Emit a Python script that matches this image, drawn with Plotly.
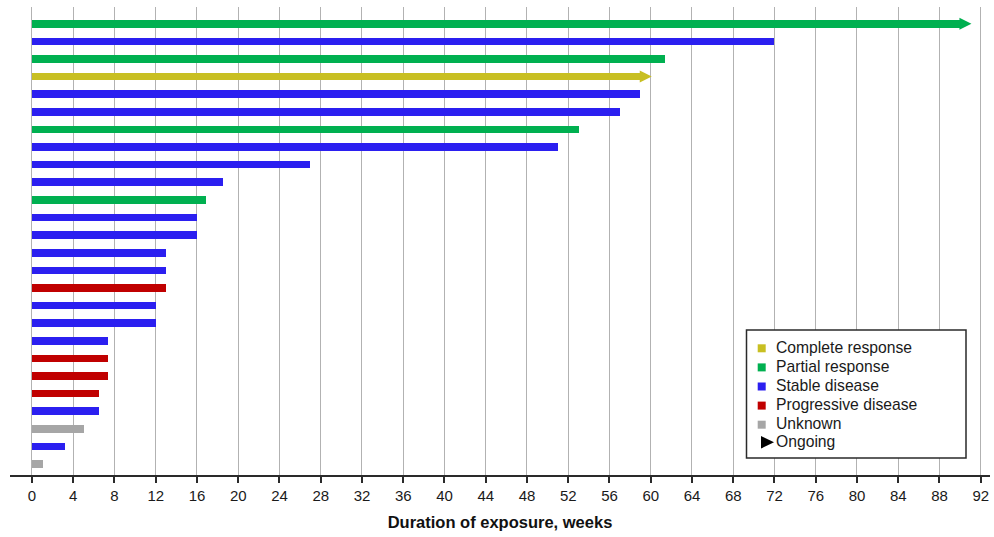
import plotly.graph_objects as go

# Duration of exposure (weeks) per patient, ordered longest first
durations = [90, 72, 61.4, 59, 59, 57, 53, 51, 27, 18.5, 16.9, 16, 16,
             13, 13, 13, 12, 12, 7.4, 7.4, 7.4, 6.5, 6.5, 5, 3.2, 1.1]
responses = ["PR", "SD", "PR", "CR", "SD", "SD", "PR", "SD", "SD", "SD",
             "PR", "SD", "SD", "SD", "SD", "PD", "SD", "SD", "SD", "PD",
             "PD", "PD", "SD", "UNK", "SD", "UNK"]
ongoing = [True, False, False, True] + [False] * 22

categories = ["CR", "PR", "SD", "PD", "UNK"]
category_names = ["Complete response", "Partial response", "Stable disease",
                  "Progressive disease", "Unknown"]
category_colors = ["#c8bf22", "#00b050", "#2b1ff0", "#c00000", "#a6a6a6"]
ongoing_label = "Ongoing"
x_ticks = list(range(0, 93, 4))

FONT = "Liberation Sans, Arial, sans-serif"
ARROW_WEEKS = 1.1  # length of the "ongoing" arrowhead beyond the bar end

rows = list(range(len(durations)))
fig = go.Figure()

for cat, color in zip(categories, category_colors):
    idx = [i for i in rows if responses[i] == cat]
    fig.add_trace(go.Bar(
        x=[durations[i] for i in idx], y=idx, base=0, orientation="h",
        width=0.43, marker=dict(color=color, line=dict(width=0)),
        showlegend=False, hoverinfo="x",
    ))

# Arrowheads for patients still on treatment
color_of = dict(zip(categories, category_colors))
on_idx = [i for i in rows if ongoing[i]]
fig.add_trace(go.Scatter(
    x=[durations[i] + ARROW_WEEKS for i in on_idx], y=on_idx, mode="markers",
    marker=dict(symbol="arrow-right", size=12,
                color=[color_of[responses[i]] for i in on_idx],
                line=dict(width=0)),
    showlegend=False, hoverinfo="skip",
))

W, H = 994, 537
ml, mr, mt, mb = 10, 4, 7, 62
pw, ph = W - ml - mr, H - mt - mb


def px_x(p):
    return (p - ml) / pw


def px_y(p):
    return 1 - (p - mt) / ph


# Boxed legend in the lower right corner
box_l, box_r, box_t, box_b = 746.5, 966, 330, 458
fig.add_shape(type="rect", xref="paper", yref="paper",
              x0=px_x(box_l), x1=px_x(box_r), y0=px_y(box_b), y1=px_y(box_t),
              line=dict(color="#2a2a2a", width=1.5), fillcolor="white",
              layer="above")

row0, row_step = 348.3, 19.1
sw_cx, sw_half = 761.7, 4
text_x = 774
for k, (name, color) in enumerate(zip(category_names, category_colors)):
    cy = row0 + k * row_step
    fig.add_shape(type="rect", xref="paper", yref="paper",
                  x0=px_x(sw_cx - sw_half), x1=px_x(sw_cx + sw_half),
                  y0=px_y(cy + sw_half), y1=px_y(cy - sw_half),
                  line=dict(width=0), fillcolor=color, layer="above")
    fig.add_annotation(x=px_x(text_x), y=px_y(cy - 1), xref="paper", yref="paper",
                       text=name, showarrow=False, xanchor="left", yanchor="middle",
                       font=dict(size=15.7, family=FONT, color="#1a1a1a"))

cy = row0 + len(category_names) * row_step - 1.5
tri = (f"M {px_x(761)} {px_y(cy - 6.3)} L {px_x(774)} {px_y(cy)} "
       f"L {px_x(761)} {px_y(cy + 6.3)} Z")
fig.add_shape(type="path", xref="paper", yref="paper", path=tri,
              line=dict(width=0), fillcolor="black", layer="above")
fig.add_annotation(x=px_x(text_x), y=px_y(cy - 0.5), xref="paper", yref="paper",
                   text=ongoing_label, showarrow=False, xanchor="left",
                   yanchor="middle",
                   font=dict(size=15.7, family=FONT, color="#1a1a1a"))

fig.update_layout(
    width=W, height=H,
    margin=dict(l=ml, r=mr, t=mt, b=mb),
    paper_bgcolor="white", plot_bgcolor="white",
    font=dict(family=FONT, color="#1a1a1a"),
    showlegend=False,
    bargap=0,
    xaxis=dict(
        range=[-2.13, 92.9], tickvals=x_ticks, ticktext=[str(t) for t in x_ticks],
        showgrid=True, gridcolor="#b2b2b2", gridwidth=1, zeroline=False,
        showline=True, linecolor="#2a2a2a", linewidth=1.5,
        ticks="outside", ticklen=6, tickwidth=1.5, tickcolor="#2a2a2a",
        tickfont=dict(size=15, family=FONT, color="#1a1a1a"),
        title=dict(text="<b>Duration of exposure, weeks</b>",
                   font=dict(size=16.5, family=FONT, color="#111"), standoff=14),
    ),
    yaxis=dict(range=[25.62, -0.95], visible=False, fixedrange=True),
)

fig.write_html("out.html")
